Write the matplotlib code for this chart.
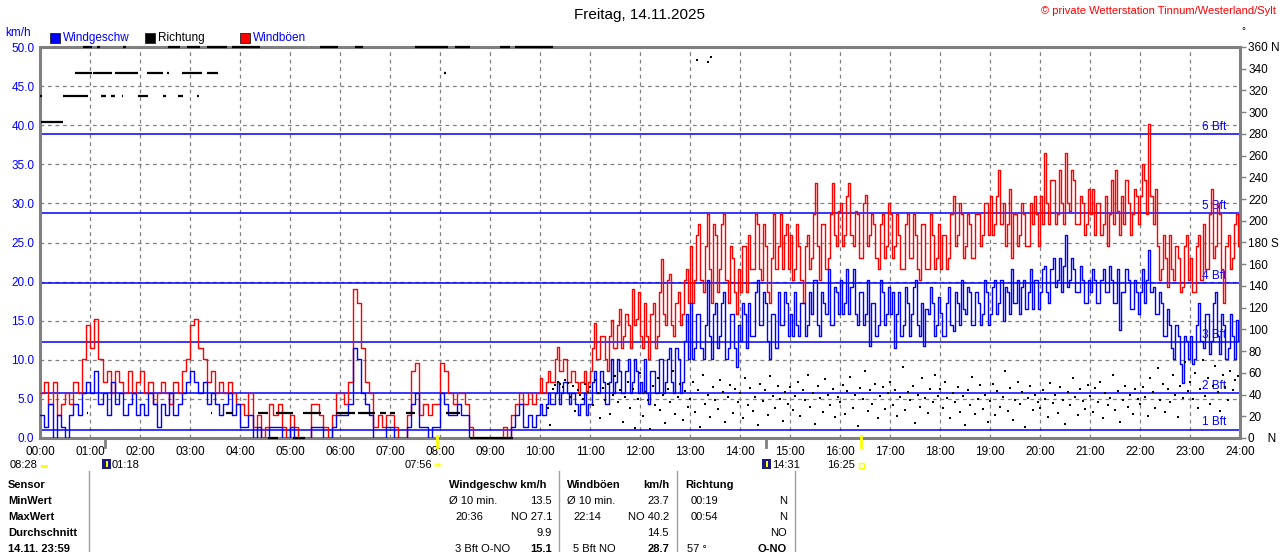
import numpy as np
import matplotlib
matplotlib.use("Agg")
import matplotlib.pyplot as plt
from matplotlib.patches import Rectangle
from matplotlib.transforms import blended_transform_factory

plt.rcParams['font.family'] = ['Liberation Sans', 'DejaVu Sans']

# ---------------- data (km/h) ----------------
# 5-minute values, one row per hour 00..23
speed_by_hour = [
    [2.9, 1.4, 4.3, 0, 2.9, 1.4, 0, 2.9, 4.3, 2.9, 5.8, 7.2],
    [5.8, 8.6, 4.3, 5.8, 2.9, 7.2, 4.3, 5.8, 2.9, 4.3, 5.8, 2.9],
    [4.3, 2.9, 5.8, 4.3, 1.4, 4.3, 2.9, 5.8, 2.9, 4.3, 5.8, 7.2],
    [8.6, 7.2, 5.8, 7.2, 4.3, 5.8, 4.3, 2.9, 4.3, 5.8, 2.9, 4.3],
    [1.4, 1.4, 2.9, 0, 1.4, 0, 0, 1.4, 1.4, 1.4, 0, 0],
    [1.4, 0, 0, 0, 0, 1.4, 1.4, 1.4, 0, 0, 1.4, 2.9],
    [2.9, 2.9, 4.3, 11.5, 10.1, 5.8, 4.3, 2.9, 0, 0, 0, 1.4],
    [1.4, 0, 0, 0, 1.4, 4.3, 5.8, 1.4, 1.4, 0, 1.4, 1.4],
    [5.8, 4.3, 2.9, 2.9, 4.3, 2.9, 2.9, 0, 0, 0, 0, 0],
    [0, 0, 0, 0, 0, 1.4, 2.9, 4.3, 1.4, 2.9, 1.4, 2.9],
    [4.3, 2.9, 5.8, 4.3, 7.2, 5.8, 7.2, 4.3, 5.8, 2.9, 4.3, 2.9],
    [4.3, 8.6, 5.8, 7.2, 4.3, 10.1, 7.2, 8.6, 5.8, 10.1, 7.2, 8.6],
    [7.2, 10.1, 4.3, 8.6, 5.8, 10.1, 7.2, 11.5, 5.8, 10.1, 7.2, 15.8],
    [17.3, 11.5, 15.8, 10.1, 20.2, 10.1, 17.3, 13.0, 18.7, 11.5, 15.8, 9.1],
    [12.4, 15.8, 17.3, 13.0, 20.2, 14.4, 17.3, 10.1, 15.8, 18.7, 14.4, 17.3],
    [15.8, 18.7, 13.0, 17.3, 14.4, 15.8, 20.2, 13.0, 17.3, 21.6, 14.4, 18.7],
    [20.2, 17.3, 15.8, 21.6, 14.4, 18.7, 15.8, 11.8, 17.3, 14.4, 18.7, 15.8],
    [15.8, 11.5, 18.7, 14.4, 17.3, 15.8, 20.2, 13.0, 11.8, 15.8, 17.3, 14.4],
    [16.0, 13.0, 19.3, 13.7, 17.3, 20.2, 15.8, 18.7, 14.4, 17.3, 15.8, 18.7],
    [15.8, 20.2, 17.3, 15.0, 18.7, 21.6, 17.3, 15.8, 20.2, 18.7, 16.5, 20.2],
    [18.7, 22.0, 17.3, 23.0, 20.2, 18.7, 25.9, 20.2, 21.6, 18.7, 20.2, 17.3],
    [18.7, 20.2, 17.3, 21.6, 18.7, 20.2, 17.3, 13.8, 18.7, 20.2, 16.5, 18.7],
    [18.7, 17.3, 24.0, 19.3, 15.8, 17.3, 13.0, 14.4, 10.1, 13.0, 7.0, 12.4],
    [13.0, 10.1, 17.3, 11.5, 15.8, 12.4, 18.7, 10.8, 14.4, 11.5, 13.0, 15.1],
]
# extra values 2.5 min after each 5-minute value, hours 10..23
speed_half_by_hour = [
    [2.9, 4.3, 4.3, 5.8, 4.3, 7.2, 5.8, 5.8, 4.3, 4.3, 5.8, 4.3],
    [7.2, 5.8, 8.6, 4.3, 7.2, 5.8, 10.1, 5.8, 8.6, 5.8, 10.1, 5.8],
    [5.8, 5.8, 8.6, 5.8, 10.1, 5.8, 10.1, 7.2, 11.5, 5.8, 12.4, 10.1],
    [10.1, 15.8, 11.5, 14.4, 13.0, 15.8, 11.5, 17.3, 10.1, 15.8, 11.5, 14.4],
    [17.3, 11.5, 13.0, 18.7, 14.4, 18.7, 12.4, 15.8, 11.5, 14.4, 18.7, 13.0],
    [13.0, 14.4, 17.3, 13.0, 18.7, 20.2, 14.4, 18.7, 15.8, 14.4, 19.3, 15.8],
    [15.8, 21.6, 19.3, 15.8, 18.7, 14.4, 20.2, 17.3, 13.0, 20.2, 14.4, 19.3],
    [18.7, 15.8, 13.0, 19.3, 13.0, 19.3, 14.4, 17.3, 16.5, 19.3, 13.0, 18.0],
    [13.0, 17.3, 14.4, 18.7, 14.4, 16.5, 19.3, 14.4, 18.7, 14.4, 20.2, 14.4],
    [19.3, 15.8, 20.2, 19.3, 15.8, 17.3, 20.2, 19.3, 16.5, 21.6, 20.2, 16.5],
    [21.6, 18.7, 21.6, 19.3, 23.0, 22.0, 19.3, 23.0, 18.7, 22.0, 17.3, 20.2],
    [21.6, 17.3, 20.2, 18.7, 22.0, 17.3, 21.6, 18.7, 21.6, 16.5, 20.2, 15.8],
    [21.6, 20.2, 18.7, 15.8, 18.7, 13.0, 16.5, 11.5, 14.4, 9.4, 13.0, 10.1],
    [9.4, 14.4, 12.4, 15.8, 10.8, 17.3, 13.0, 15.8, 10.1, 15.8, 10.1, 12.4],
]
gust_by_hour = [
    [5.8, 7.2, 4.3, 7.2, 2.9, 4.3, 5.8, 4.3, 7.2, 5.8, 10.1, 14.4],
    [11.5, 15.2, 10.1, 7.2, 8.6, 5.8, 8.6, 7.2, 5.8, 8.6, 5.8, 7.2],
    [8.6, 5.8, 7.2, 4.3, 5.8, 7.2, 5.8, 4.3, 7.2, 5.8, 8.6, 10.1],
    [14.4, 15.2, 11.5, 10.1, 7.2, 8.6, 5.8, 7.2, 5.8, 7.2, 5.8, 4.3],
    [4.3, 2.9, 5.8, 1.4, 2.9, 0, 1.4, 4.3, 2.9, 4.3, 1.4, 0],
    [2.9, 1.4, 0, 0, 0, 4.3, 4.3, 2.9, 1.4, 0, 2.9, 5.8],
    [5.8, 4.3, 7.2, 19.1, 17.3, 11.5, 7.2, 5.8, 1.4, 2.9, 1.4, 2.9],
    [2.9, 1.4, 0, 0, 2.9, 8.6, 9.6, 2.9, 4.3, 2.9, 4.3, 4.3],
    [9.6, 8.6, 5.8, 4.3, 5.8, 5.8, 4.3, 1.4, 0, 0, 0, 0],
    [0, 0, 0, 1.4, 0, 2.9, 4.3, 5.8, 4.3, 5.8, 4.3, 5.8],
    [7.7, 5.8, 8.6, 7.2, 11.7, 8.6, 10.1, 7.2, 8.6, 5.8, 7.2, 5.8],
    [8.6, 14.7, 10.1, 13.0, 8.6, 15.1, 11.5, 16.5, 13.0, 14.4, 19.1, 15.2],
    [13.0, 17.3, 10.1, 17.3, 13.0, 22.9, 14.4, 21.0, 13.0, 18.7, 15.8, 21.6],
    [24.5, 20.2, 27.4, 18.7, 28.7, 17.3, 25.9, 21.6, 28.7, 17.3, 23.0, 15.8],
    [18.7, 24.5, 25.9, 21.6, 27.4, 20.2, 24.5, 17.3, 28.7, 24.5, 21.6, 27.4],
    [26.0, 21.6, 24.5, 17.3, 25.9, 23.0, 32.6, 20.2, 27.4, 23.0, 32.6, 24.5],
    [30.0, 25.9, 32.6, 24.5, 28.7, 23.0, 31.1, 25.9, 27.4, 21.6, 28.7, 24.5],
    [28.7, 24.5, 26.0, 21.6, 28.7, 23.0, 25.9, 20.2, 27.4, 21.6, 26.0, 23.0],
    [21.6, 25.9, 23.0, 31.0, 26.0, 28.7, 24.5, 27.4, 23.0, 28.7, 26.0, 30.0],
    [31.0, 27.4, 34.3, 30.0, 27.4, 23.0, 28.7, 25.9, 28.7, 24.5, 27.4, 28.7],
    [31.0, 36.4, 27.4, 33.0, 28.7, 30.0, 36.4, 29.0, 33.0, 27.4, 30.0, 27.4],
    [28.7, 26.0, 30.0, 27.4, 24.5, 33.0, 34.3, 26.0, 27.4, 30.0, 28.7, 31.0],
    [31.0, 33.0, 40.2, 27.4, 24.5, 21.6, 23.0, 25.9, 20.2, 23.0, 19.3, 25.9],
    [23.0, 18.7, 25.9, 27.4, 21.6, 31.8, 24.5, 28.7, 17.3, 25.9, 23.0, 28.7],
]
gust_half_by_hour = [
    [5.8, 7.2, 7.2, 10.1, 8.6, 10.1, 7.2, 8.6, 7.2, 7.2, 8.6, 7.2],
    [11.5, 10.1, 13.0, 10.1, 13.0, 11.5, 14.4, 11.5, 15.8, 11.5, 14.4, 18.7],
    [11.5, 13.0, 15.8, 11.5, 18.7, 15.8, 20.2, 14.4, 17.3, 14.4, 20.2, 17.3],
    [17.3, 25.9, 20.2, 24.5, 21.6, 27.4, 18.7, 27.4, 20.2, 24.5, 18.7, 21.6],
    [24.5, 18.7, 21.6, 28.7, 21.6, 27.4, 18.7, 23.0, 21.6, 28.7, 25.9, 21.6],
    [20.2, 27.4, 20.2, 24.5, 21.6, 28.7, 24.5, 27.4, 21.6, 28.7, 25.9, 29.0],
    [24.5, 31.0, 25.9, 29.0, 23.0, 30.0, 24.5, 28.7, 23.0, 27.4, 23.0, 30.0],
    [23.0, 28.7, 21.6, 27.4, 23.0, 28.7, 21.6, 27.4, 21.6, 28.7, 21.6, 27.4],
    [25.9, 21.6, 28.7, 24.5, 30.0, 23.0, 28.7, 23.0, 28.7, 24.5, 30.0, 25.9],
    [26.0, 31.0, 27.4, 24.5, 31.8, 28.7, 24.5, 30.0, 24.5, 30.0, 31.0, 24.5],
    [27.4, 30.0, 33.0, 27.4, 34.3, 27.4, 30.0, 34.3, 27.4, 31.0, 26.0, 31.8],
    [31.8, 30.0, 25.9, 31.0, 28.7, 27.4, 29.0, 31.0, 33.0, 26.0, 31.8, 27.4],
    [35.0, 28.7, 31.0, 31.8, 20.2, 25.9, 19.3, 21.6, 24.5, 18.7, 24.5, 20.2],
    [18.7, 24.5, 20.2, 21.6, 28.7, 23.0, 30.0, 21.6, 24.5, 21.6, 27.4, 24.5],
]
half_from_hour = 10
speed_now = 15.1
gust_now = 28.7

# wind direction (degrees), 3-minute values from 10:00 to 24:00
dir_by_hour = [
    [np.nan, np.nan, np.nan, 28, 12, 45, 49, 52, 50, 47, 53, 51, 38, 48, 25, 44, 40, 36, 50, 42],
    [47, 30, 53, 41, 18, 46, 35, 50, 22, 40, 57, 33, 44, 15, 38, 52, 28, 45, 9, 36],
    [60, 20, 42, 35, 8, 48, 30, 55, 26, 40, 14, 45, 33, 62, 22, 38, 50, 17, 43, 29],
    [36, 52, 24, 44, 10, 58, 31, 40, 19, 47, 35, 27, 53, 42, 15, 38, 49, 23, 45, 33],
    [41, 18, 55, 30, 46, 25, 38, 12, 50, 34, 44, 21, 57, 39, 28, 48, 36, 16, 42, 31],
    [47, 26, 39, 52, 20, 44, 35, 58, 29, 41, 13, 48, 37, 24, 54, 40, 30, 45, 19, 38],
    [33, 49, 22, 43, 56, 28, 40, 11, 46, 36, 62, 25, 44, 31, 50, 18, 39, 47, 27, 41],
    [52, 30, 44, 20, 38, 65, 26, 42, 35, 48, 14, 40, 29, 55, 37, 23, 45, 33, 58, 39],
    [45, 28, 52, 37, 18, 41, 33, 47, 24, 39, 12, 44, 30, 56, 22, 36, 49, 27, 40, 15],
    [34, 50, 21, 43, 29, 38, 62, 25, 46, 17, 35, 52, 31, 42, 10, 37, 48, 26, 40, 33],
    [28, 44, 36, 19, 51, 32, 40, 23, 47, 35, 13, 42, 30, 55, 38, 21, 45, 34, 27, 49],
    [39, 24, 46, 33, 52, 18, 41, 30, 37, 58, 26, 43, 15, 35, 48, 29, 40, 22, 45, 36],
    [31, 47, 38, 20, 55, 42, 28, 64, 35, 50, 24, 45, 33, 58, 40, 19, 48, 37, 70, 43],
    [52, 36, 60, 28, 45, 72, 39, 55, 31, 48, 66, 42, 25, 58, 47, 35, 62, 44, 53, 57],
]
# night-time direction runs: (start hour, end hour) per direction
dir_runs = {
    291: [(0.02, 0.46)],
    315: [(0.0, 0.04), (0.46, 0.96), (1.22, 1.32), (1.42, 1.50), (1.63, 1.66), (1.96, 2.16),
          (2.46, 2.52), (2.76, 2.86), (3.14, 3.18)],
    336: [(0.70, 1.04), (1.06, 1.44), (1.50, 1.96), (2.14, 2.46), (2.54, 2.58), (2.84, 3.24),
          (3.34, 3.56), (8.08, 8.11)],
    360: [(0.86, 1.04), (1.14, 1.20), (1.66, 1.72), (2.56, 2.80), (2.94, 3.20), (3.34, 3.74),
          (3.84, 4.40), (5.60, 5.96), (6.30, 6.46), (7.50, 8.16), (8.30, 8.60), (9.20, 9.40),
          (9.50, 10.26)],
    23: [(0.93, 0.96), (3.41, 3.44), (3.72, 3.86), (4.36, 4.56), (4.72, 5.06), (5.26, 5.62),
         (5.92, 6.30), (6.36, 6.70), (6.80, 6.92), (7.00, 7.10), (7.32, 7.50), (8.12, 8.40)],
    0: [(4.56, 4.76), (5.06, 5.30), (8.60, 9.46)],
}
dir_extra_t = [13.14, 13.36, 13.42]
dir_extra_d = [348, 346, 351]

bft_levels = [1.08, 5.76, 12.24, 19.8, 28.8, 38.88]
bft_labels = ["1 Bft", "2 Bft", "3 Bft", "4 Bft", "5 Bft", "6 Bft"]
hour_labels = [f"{h:02d}:00" for h in range(25)]


def build_series(main_by_hour, half_by_hour, first_half, final):
    tt, vv = [], []
    for h, row in enumerate(main_by_hour):
        for k, val in enumerate(row):
            t0 = h + k * 5 / 60
            tt.append(t0)
            vv.append(val)
            if h >= first_half:
                tt.append(t0 + 2.5 / 60)
                vv.append(half_by_hour[h - first_half][k])
    tt.append(24.0)
    vv.append(final)
    return np.array(tt), np.array(vv)


# ---------------- figure ----------------
W, H = 1280, 552
fig = plt.figure(figsize=(12.8, 5.52), dpi=100)
fig.patch.set_facecolor('white')


def fx(px):
    return px / W


def fy(py):
    return 1 - py / H


ax = fig.add_axes([fx(40), fy(438), fx(1240) - fx(40), fy(47) - fy(438)])
ax.set_xlim(0, 24)
ax.set_ylim(0, 50)
for s in ax.spines.values():
    s.set_color('#808080')
    s.set_linewidth(2.2)

# grid
for h in range(1, 24):
    ax.axvline(h, color='#808080', lw=0.9, ls=(0, (3, 3)), zorder=1)
for v in range(5, 50, 5):
    ax.axhline(v, color='#808080', lw=0.9, ls=(0, (3, 3)), zorder=1)

# Beaufort lines
for lv, lb in zip(bft_levels, bft_labels):
    ax.axhline(lv, color='#0000ff', lw=1.1, zorder=1.5)
    ax.text(23.72, lv + 0.15, lb, ha='right', va='bottom', color='#0000ff', fontsize=8.5, zorder=1.6)

t_s, speed = build_series(speed_by_hour, speed_half_by_hour, half_from_hour, speed_now)
t_g, gust = build_series(gust_by_hour, gust_half_by_hour, half_from_hour, gust_now)

ax.step(t_g, gust, where='post', color='#ff0000', lw=1.0, zorder=3)
ax.step(t_s, speed, where='post', color='#0000ff', lw=1.0, zorder=4)

ax.set_yticks(np.arange(0, 50.1, 5))
ax.set_yticklabels([f"{v:.1f}" for v in np.arange(0, 50.1, 5)])
ax.tick_params(axis='y', length=0, pad=4, labelsize=8.5, labelcolor='#0000ff')
ax.set_xticks(range(25))
ax.set_xticklabels(hour_labels)
ax.tick_params(axis='x', length=0, pad=6, labelsize=8.5, labelcolor='black')

# direction axis
ax2 = ax.twinx()
ax2.set_ylim(0, 360)
ax2.set_xlim(0, 24)
for s in ax2.spines.values():
    s.set_visible(False)
dticks = list(range(0, 361, 20))
dlabels = []
for d in dticks:
    if d == 360:
        dlabels.append("360 N")
    elif d == 180:
        dlabels.append("180 S")
    elif d == 0:
        dlabels.append("0    N")
    else:
        dlabels.append(str(d))
ax2.set_yticks(dticks)
ax2.set_yticklabels(dlabels)
ax2.tick_params(axis='y', direction='out', length=4, width=1, color='#808080',
                pad=2, labelsize=8.5, labelcolor='black')

dir_vals = np.array(sum(dir_by_hour, []), dtype=float)
t_dir = 10 + np.arange(len(dir_vals)) * 0.05
ax2.plot(t_dir, dir_vals, 's', ms=2.0, mew=0, color='black', zorder=5)
ax2.plot(dir_extra_t, dir_extra_d, 's', ms=2.0, mew=0, color='black', zorder=5)
for deg, runs in dir_runs.items():
    for a, b in runs:
        ax2.hlines(deg, a, b, color='black', lw=1.6, zorder=5, clip_on=False)

# sun / moon tick marks below axis
trans = blended_transform_factory(ax.transData, ax.transAxes)
for tm, col, y0 in [(1.3, '#808080', 0.0), (7.933, '#ffff00', 0.005),
                    (14.517, '#808080', 0.0), (16.417, '#ffff00', 0.005)]:
    ax.plot([tm, tm], [y0, -0.024], color=col, lw=2, transform=trans, clip_on=False, zorder=6)

# ---------------- header texts ----------------
fig.text(fx(640), fy(15), "Freitag, 14.11.2025", ha='center', va='center', fontsize=11)
fig.text(fx(1276), fy(11), "© private Wetterstation Tinnum/Westerland/Sylt", ha='right', va='center',
         fontsize=8, color='#ff0000')
fig.text(fx(1243), fy(31), "°", ha='center', va='center', fontsize=7)
fig.text(fx(5), fy(33), "km/h", ha='left', va='center', fontsize=8.5, color='#0000ff')

legend_items = [(50, '#0000ff', "Windgeschw", '#0000ff'),
                (145, '#000000', "Richtung", '#000000'),
                (240, '#ff0000', "Windböen", '#0000ff')]
for x0, col, lab, tcol in legend_items:
    fig.patches.append(Rectangle((fx(x0), fy(43)), fx(10), 10 / H, transform=fig.transFigure,
                                 facecolor=col, edgecolor='#202020', lw=0.6))
    fig.text(fx(x0 + 13), fy(38), lab, ha='left', va='center', fontsize=8.5, color=tcol)

# sun / moon times
SUN_Y = 465
fig.text(fx(10), fy(SUN_Y), "08:28", ha='left', va='center', fontsize=8)
fig.patches.append(Rectangle((fx(41), fy(468)), fx(7), 3 / H, transform=fig.transFigure,
                             facecolor='#ffff00', edgecolor='none'))
for xm in (102, 762):
    fig.patches.append(Rectangle((fx(xm), fy(469)), fx(9), 10 / H, transform=fig.transFigure,
                                 facecolor='#1a1a80', edgecolor='none'))
    fig.patches.append(Rectangle((fx(xm + 4), fy(467)), fx(2), 6 / H, transform=fig.transFigure,
                                 facecolor='#ffff00', edgecolor='none'))
fig.text(fx(112), fy(SUN_Y), "01:18", ha='left', va='center', fontsize=8)
fig.text(fx(432), fy(SUN_Y), "07:56", ha='right', va='center', fontsize=8)
fig.patches.append(plt.Circle((fx(438), fy(465)), 3.5 / W, transform=fig.transFigure,
                              facecolor='#ffff00', edgecolor='#ffff88', lw=1))
fig.text(fx(772), fy(SUN_Y), "14:31", ha='left', va='center', fontsize=8)
fig.text(fx(827), fy(SUN_Y), "16:25", ha='left', va='center', fontsize=8)
fig.patches.append(Rectangle((fx(859), fy(468)), fx(5), 5 / H, transform=fig.transFigure,
                             facecolor='white', edgecolor='#ffff00', lw=1))

# ---------------- table ----------------
for xl in [89, 559, 677, 795]:
    fig.add_artist(plt.Line2D([fx(xl), fx(xl)], [fy(471), fy(552)], transform=fig.transFigure,
                              color='#a0a0a0', lw=1))

row_y = [485, 501, 517, 533, 549]
row_names = ["Sensor", "MinWert", "MaxWert", "Durchschnitt", "14.11. 23:59"]
for yy, nm in zip(row_y, row_names):
    fig.text(fx(8), fy(yy), nm, ha='left', va='center', fontsize=8, fontweight='bold')

cells = [
    # (x, y, text, ha, bold)
    (449, 485, "Windgeschw km/h", 'left', True),
    (567, 485, "Windböen", 'left', True),
    (669, 485, "km/h", 'right', True),
    (685, 485, "Richtung", 'left', True),
    (449, 501, "Ø 10 min.", 'left', False), (552, 501, "13.5", 'right', False),
    (567, 501, "Ø 10 min.", 'left', False), (669, 501, "23.7", 'right', False),
    (691, 501, "00:19", 'left', False), (787, 501, "N", 'right', False),
    (455, 517, "20:36", 'left', False), (552, 517, "NO 27.1", 'right', False),
    (573, 517, "22:14", 'left', False), (669, 517, "NO 40.2", 'right', False),
    (691, 517, "00:54", 'left', False), (787, 517, "N", 'right', False),
    (552, 533, "9.9", 'right', False), (669, 533, "14.5", 'right', False),
    (787, 533, "NO", 'right', False),
    (455, 549, "3 Bft O-NO", 'left', False), (552, 549, "15.1", 'right', True),
    (573, 549, "5 Bft NO", 'left', False), (669, 549, "28.7", 'right', True),
    (687, 549, "57 °", 'left', False), (787, 549, "O-NO", 'right', True),
]
for x0, y0, s, ha, b in cells:
    fig.text(fx(x0), fy(y0), s, ha=ha, va='center', fontsize=8,
             fontweight='bold' if b else 'normal')

fig.savefig("out.png", dpi=100, facecolor='white')
